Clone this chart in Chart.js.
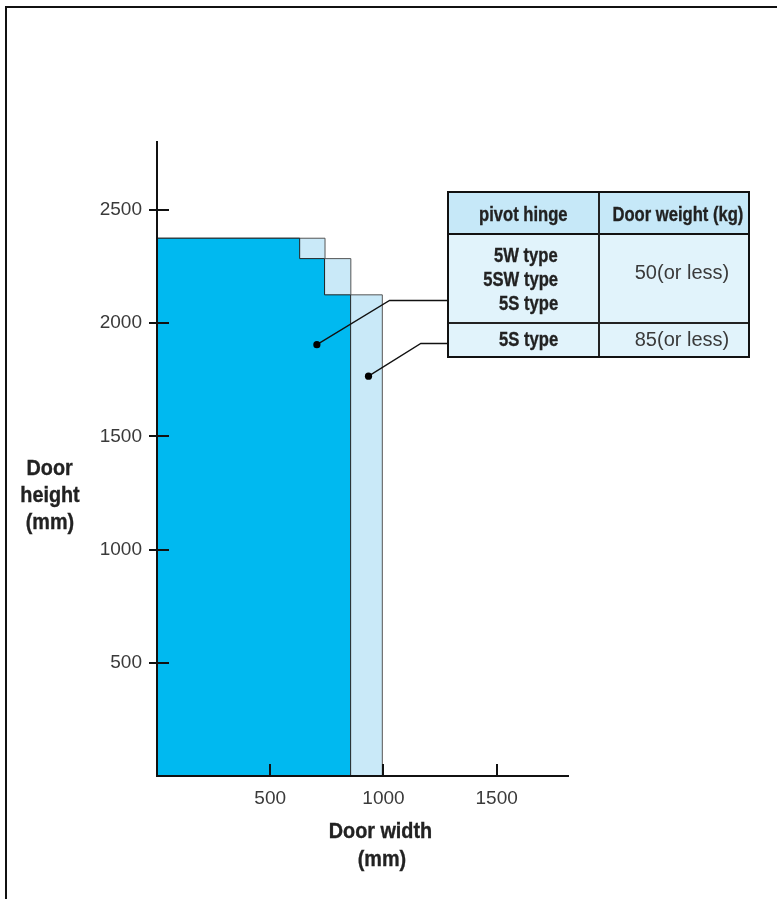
<!DOCTYPE html>
<html>
<head>
<meta charset="utf-8">
<script src="https://cdn.jsdelivr.net/npm/chart.js@4.4.1/dist/chart.umd.min.js"></script>
<style>
body { margin: 0; background: #fff; }
#wrap { position: relative; width: 777px; height: 899px; overflow: hidden; }
#frame { position: absolute; left: 5px; top: 6px; width: 820px; height: 940px; border-left: 2px solid #111; border-top: 2px solid #111; }
canvas { position: absolute; left: 0; top: 0; }
.b { font-family: "Liberation Sans", Arial, sans-serif; font-weight: bold; color: #222; -webkit-text-stroke: 0.35px #222; }
.lt { font-family: "Liberation Sans", Arial, sans-serif; font-weight: normal; color: #3a3a3a; }
.lbl { position: absolute; white-space: nowrap; height: 24px; line-height: 24px; }
.lbl span { display: inline-block; }
.ctr { text-align: center; }
.ctr span { transform-origin: 50% 50%; }
.rgt { text-align: right; }
.rgt span { transform-origin: 100% 50%; }
.ttl { font-size: 22px; }
.ttl span { transform: scaleX(0.9); }
.cell { font-size: 20px; }
.cell span { transform: scaleX(0.83); }
.num { font-size: 20px; }
#tbl { position: absolute; left: 447px; top: 191px; width: 303px; height: 167px; box-sizing: border-box; border: 2px solid #111; background: #e1f3fb; }
#thead { position: absolute; left: 0; top: 0; right: 0; height: 40px; background: #c6e8f8; border-bottom: 2px solid #111; }
#vdiv { position: absolute; left: 149px; top: 0; bottom: 0; width: 1.5px; background: #222; }
#hdiv { position: absolute; left: 0; right: 0; top: 129px; height: 1.5px; background: #222; }
</style>
</head>
<body>
<div id="wrap">
  <canvas id="c"></canvas>
  <div id="frame"></div>
  <div id="tbl"><div id="thead"></div><div id="vdiv"></div><div id="hdiv"></div></div>

  <div class="lbl b ttl ctr" style="left:0;width:100px;top:456px"><span>Door</span></div>
  <div class="lbl b ttl ctr" style="left:0;width:100px;top:483px"><span>height</span></div>
  <div class="lbl b ttl ctr" style="left:0;width:100px;top:510px"><span>(mm)</span></div>
  <div class="lbl b ttl ctr" style="left:280px;width:200px;top:819px"><span>Door width</span></div>
  <div class="lbl b ttl ctr" style="left:282px;width:200px;top:847px"><span>(mm)</span></div>

  <div class="lbl b cell ctr" style="left:423px;width:200px;top:202px"><span>pivot hinge</span></div>
  <div class="lbl b cell ctr" style="left:578px;width:200px;top:202px"><span>Door weight (kg)</span></div>
  <div class="lbl b cell rgt" style="left:358px;width:200px;top:243px"><span>5W type</span></div>
  <div class="lbl b cell rgt" style="left:358px;width:200px;top:267px"><span>5SW type</span></div>
  <div class="lbl b cell rgt" style="left:358px;width:200px;top:291px"><span>5S type</span></div>
  <div class="lbl b cell rgt" style="left:358px;width:200px;top:327px"><span>5S type</span></div>
  <div class="lbl lt num ctr" style="left:582px;width:200px;top:260px"><span>50(or less)</span></div>
  <div class="lbl lt num ctr" style="left:582px;width:200px;top:327px"><span>85(or less)</span></div>
</div>
<script>
// axis ranges and ticks (mm)
const xMax = 1815;
const yMax = 2800;
const xTicks = [500, 1000, 1500];
const yTicks = [500, 1000, 1500, 2000, 2500];

// 50 kg area (5W / 5SW / 5S type) - stepped outline, width -> height
const area50W = [0, 630, 740, 855];
const area50H = [2375, 2285, 2125, 0];

// 85 kg area (5S type)
const area85W = [0, 742, 856, 995];
const area85H = [2375, 2285, 2125, 0];

// leader lines from the areas to the table rows
const leader50W = [706, 1027, 1281];
const leader50H = [1905, 2100, 2100];
const leader85W = [934, 1165, 1281];
const leader85H = [1766, 1910, 1910];

const pts = (xs, ys) => xs.map((x, i) => ({x: x, y: ys[i]}));

// axis lines and ticks go over the filled areas
const axisOnTop = {
    id: 'axisOnTop',
    afterDatasetsDraw(chart) {
        const ctx = chart.ctx;
        const xs = chart.scales.x, ys = chart.scales.y;
        const a = chart.chartArea;
        ctx.save();
        ctx.strokeStyle = '#111';
        ctx.lineWidth = 2;
        ctx.beginPath();
        ctx.moveTo(a.left, a.top);
        ctx.lineTo(a.left, a.bottom + 1);
        ctx.moveTo(a.left - 1, a.bottom);
        ctx.lineTo(a.right, a.bottom);
        for (const v of yTicks) {
            const p = Math.round(ys.getPixelForValue(v));
            ctx.moveTo(a.left - 8, p);
            ctx.lineTo(a.left + 12, p);
        }
        for (const v of xTicks) {
            const p = Math.round(xs.getPixelForValue(v));
            ctx.moveTo(p, a.bottom - 12);
            ctx.lineTo(p, a.bottom);
        }
        ctx.stroke();
        ctx.restore();
    }
};

const tickFont = { family: 'Liberation Sans', size: 19 };

new Chart(document.getElementById('c'), {
    type: 'line',
    data: {
        datasets: [
            {
                data: pts(leader50W, leader50H),
                order: 0,
                borderColor: '#111',
                borderWidth: 1.3,
                pointRadius: [3.6, 0, 0],
                pointBackgroundColor: '#000',
                pointBorderColor: '#000',
                pointBorderWidth: 0,
                fill: false
            },
            {
                data: pts(leader85W, leader85H),
                order: 0,
                borderColor: '#111',
                borderWidth: 1.3,
                pointRadius: [3.6, 0, 0],
                pointBackgroundColor: '#000',
                pointBorderColor: '#000',
                pointBorderWidth: 0,
                fill: false
            },
            {
                data: pts(area50W, area50H),
                order: 1,
                stepped: true,
                fill: 'origin',
                backgroundColor: '#00b9f0',
                borderColor: '#222',
                borderWidth: 1,
                pointRadius: 0
            },
            {
                data: pts(area85W, area85H),
                order: 2,
                stepped: true,
                fill: 'origin',
                backgroundColor: '#c9e9f8',
                borderColor: '#555',
                borderWidth: 1,
                pointRadius: 0
            }
        ]
    },
    options: {
        responsive: true,
        maintainAspectRatio: false,
        animation: false,
        layout: { padding: { top: 142, right: 209, left: 0, bottom: 0 } },
        plugins: { legend: { display: false }, tooltip: { enabled: false } },
        scales: {
            x: {
                type: 'linear',
                min: 0,
                max: xMax,
                afterBuildTicks: s => { s.ticks = xTicks.map(v => ({value: v})); },
                afterFit: s => { s.height = 123; },
                grid: { drawOnChartArea: false, drawTicks: false },
                border: { display: true, color: '#111', width: 2 },
                ticks: { padding: 11, color: '#3a3a3a', font: tickFont, callback: v => String(v) }
            },
            y: {
                type: 'linear',
                min: 0,
                max: yMax,
                afterBuildTicks: s => { s.ticks = yTicks.map(v => ({value: v})); },
                afterFit: s => { s.width = 157; },
                grid: { drawOnChartArea: false, drawTicks: false },
                border: { display: true, color: '#111', width: 2 },
                ticks: { padding: 15, color: '#3a3a3a', font: tickFont, callback: v => String(v) }
            }
        }
    },
    plugins: [axisOnTop]
});
</script>
</body>
</html>
